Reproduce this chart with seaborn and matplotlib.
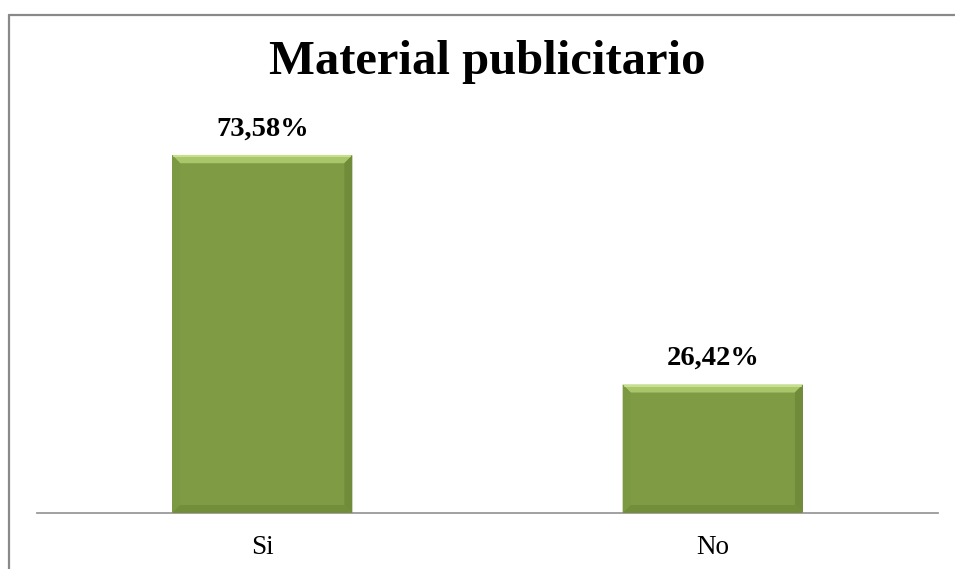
import matplotlib
matplotlib.use("Agg")
import matplotlib.pyplot as plt
import seaborn as sns
import pandas as pd
from matplotlib.lines import Line2D
from matplotlib.patches import Polygon

categories = ["Si", "No"]
values = [73.58, 26.42]
title = "Material publicitario"

sns.set_theme(style="white")
plt.rcParams["font.family"] = ["Liberation Serif", "DejaVu Serif"]

W, H, DPI = 955, 569, 100
fig = plt.figure(figsize=(W / DPI, H / DPI), dpi=DPI)
fig.patch.set_facecolor("white")

ax_left, ax_right, ax_bottom, ax_top = 37, 938, 513, 124
ax = fig.add_axes([ax_left / W, (H - ax_bottom) / H,
                   (ax_right - ax_left) / W, (ax_bottom - ax_top) / H])

df = pd.DataFrame({"cat": categories, "val": values})
sns.barplot(data=df, x="cat", y="val", ax=ax, color="#7F9C45",
            saturation=1, width=0.4, edgecolor="none")
ax.set_xlim(-0.5, 1.5)
ax.set_ylim(0, 80)
ax.set_xlabel("")
ax.set_ylabel("")
ax.set_yticks([])
for s in ["left", "right", "top"]:
    ax.spines[s].set_visible(False)
ax.spines["bottom"].set_color("#9a9a9a")
ax.spines["bottom"].set_linewidth(1.3)
ax.spines["bottom"].set_zorder(5)
ax.tick_params(axis="x", length=0, pad=16, labelsize=19.5, labelcolor="black")
ax.set_facecolor("white")

labels = [f"{v:.2f}%".replace(".", ",") for v in values]
ax.bar_label(ax.containers[0], labels=labels, padding=10, fontsize=20.5,
             fontweight="bold", color="black")

# bevel effect derived from the bar patches
fig.canvas.draw()
bev = 8
for p in ax.patches:
    (x0, y0) = ax.transData.transform((p.get_x(), p.get_y()))
    (x1, y1) = ax.transData.transform((p.get_x() + p.get_width(), p.get_y() + p.get_height()))
    top = Polygon([(x0, y1), (x1, y1), (x1 - bev, y1 - bev), (x0 + bev, y1 - bev)],
                  closed=True, transform=None, facecolor="#A9C76A", edgecolor="none", zorder=3)
    left = Polygon([(x0, y1), (x0 + bev, y1 - bev), (x0 + bev, y0 + bev), (x0, y0)],
                   closed=True, transform=None, facecolor="#7B9842", edgecolor="none", zorder=3)
    right = Polygon([(x1, y1), (x1 - bev, y1 - bev), (x1 - bev, y0 + bev), (x1, y0)],
                    closed=True, transform=None, facecolor="#708C3A", edgecolor="none", zorder=3)
    bottom = Polygon([(x0, y0), (x0 + bev, y0 + bev), (x1 - bev, y0 + bev), (x1, y0)],
                     closed=True, transform=None, facecolor="#728E3B", edgecolor="none", zorder=3)
    for poly in (top, left, right, bottom):
        fig.add_artist(poly)
    fig.add_artist(Line2D([x0 + 2, x1 - 2], [y1 - 1, y1 - 1], transform=None,
                          color="#C6E08C", lw=1.5, zorder=4))

# title
fig.text((ax_left + ax_right) / 2 / W, 1 - 62 / H, title, ha="center", va="center",
         fontsize=35, fontweight="bold", color="black")

# chart-area border (top and left visible)
fig.add_artist(Line2D([9 / W, 1.0], [1 - 15 / H, 1 - 15 / H], transform=fig.transFigure,
                      color="#898989", lw=1.6))
fig.add_artist(Line2D([9 / W, 9 / W], [0.0, 1 - 15 / H], transform=fig.transFigure,
                      color="#898989", lw=1.6))

fig.savefig("out.png", dpi=DPI, facecolor="white")
